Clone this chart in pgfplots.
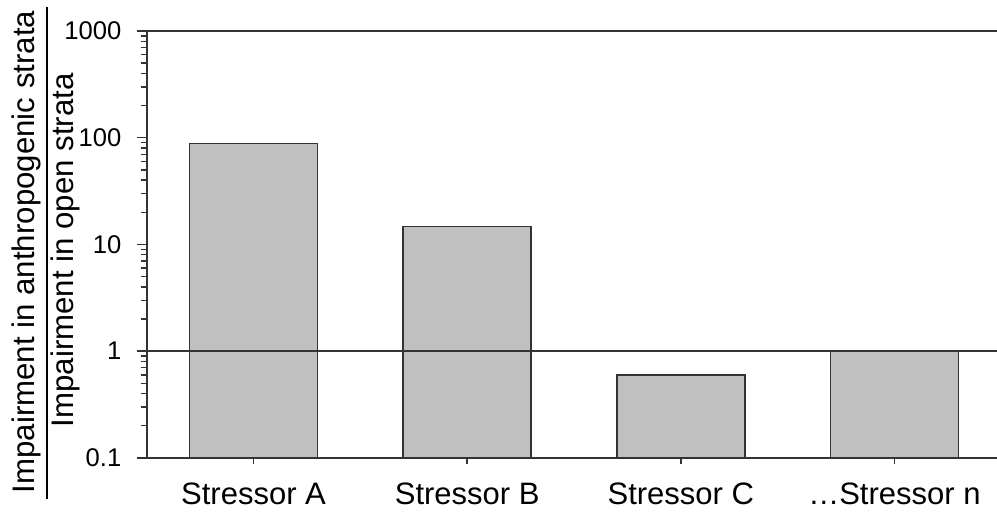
\documentclass[border=0pt]{standalone}
\usepackage{pgfplots}
\pgfplotsset{compat=1.18}
\usepackage{fontspec}
\setmainfont{Liberation Sans}
\definecolor{barfill}{RGB}{192,192,192}
\definecolor{edge}{RGB}{51,51,51}
\begin{document}
\begin{tikzpicture}
\path[use as bounding box] (-73.35pt,-29.15pt) rectangle (425pt,228.85pt);
\begin{axis}[
  at={(0,0)}, anchor=south west,
  scale only axis, width=425pt, height=213.35pt,
  xmin=-0.5, xmax=3.48,
  ymode=log, ymin=0.1, ymax=1000, log origin=infty,
  enlargelimits=false,
  axis x line*=box, axis y line*=left,
  axis line style={edge, line width=0.8pt},
  xtick={0,1,2,3},
  xticklabels={Stressor A,Stressor B,Stressor C,…Stressor n},
  ytick={0.1,1,10,100,1000},
  yticklabels={0.1,1,10,100,1000},
  minor ytick={0.2,0.3,0.4,0.5,0.6,0.7,0.8,0.9,2,3,4,5,6,7,8,9,20,30,40,50,60,70,80,90,200,300,400,500,600,700,800,900},
  tick align=outside,
  xtick pos=bottom, ytick pos=left,
  major tick length=5pt, minor tick length=3pt,
  xtick style={edge, line width=0.7pt, /pgfplots/major tick length=3pt},
  ytick style={edge, line width=0.7pt},
  minor tick style={edge, line width=0.7pt},
  xticklabel style={font=\fontsize{15.5}{18}\selectfont, yshift=-4pt},
  yticklabel style={font=\fontsize{12.8}{15}\selectfont, anchor=east, inner sep=0pt, xshift=-7.5pt},
  ylabel={\begin{tabular}{@{\hspace{3pt}}l@{\hspace{2pt}}}Impairment in anthropogenic strata\\\hline\hspace*{33pt}Impairment in open strata\end{tabular}},
  ylabel style={at={(rel axis cs:-0.1176,0.48)}, anchor=center, font=\fontsize{15.6}{18.7}\selectfont},
]
\setlength{\arrayrulewidth}{0.75pt}
\addplot[ybar, bar width=0.6, fill=barfill, draw=edge, line width=0.8pt] coordinates {
(0, 88)
(1, 14.7)
(2, 0.6)
(3, 1.0)
};
\addplot[sharp plot, edge, line width=0.8pt] coordinates {
(-0.5, 1)
(3.48, 1)
};
\end{axis}
\end{tikzpicture}
\end{document}
